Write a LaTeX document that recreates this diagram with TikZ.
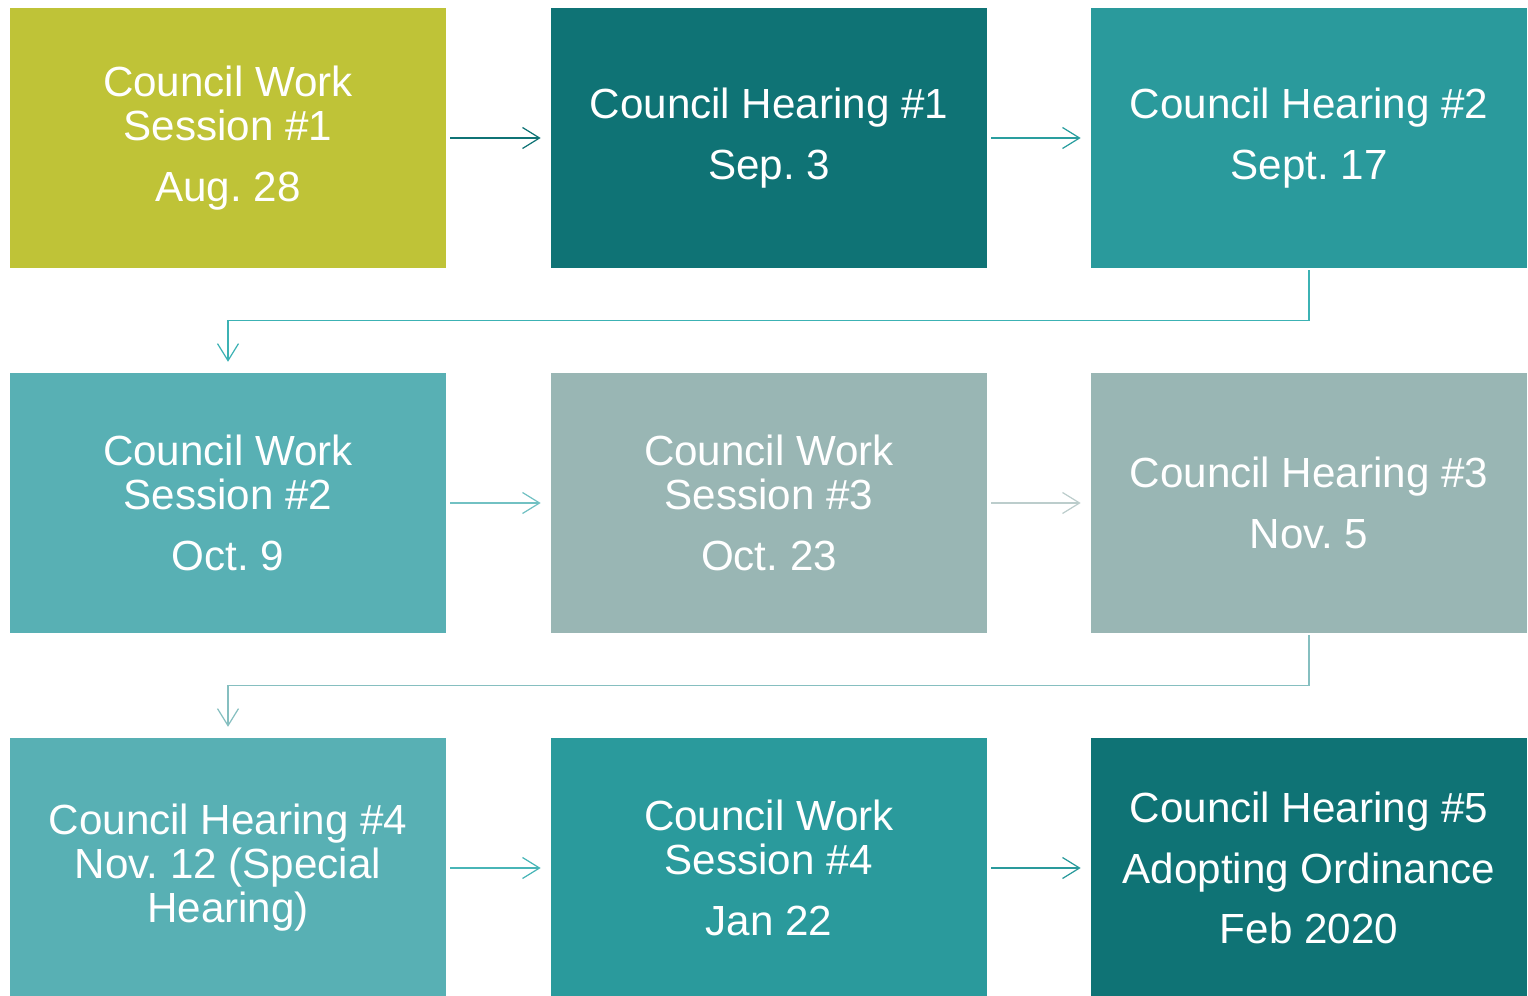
\documentclass[tikz,border=0pt]{standalone}
\usepackage{fontspec}
\setmainfont{Liberation Sans}
\usetikzlibrary{arrows.meta}

\definecolor{cwOlive}{HTML}{BFC337}
\definecolor{cwDark}{HTML}{0F7375}
\definecolor{cwTeal}{HTML}{2A9A9C}
\definecolor{cwLight}{HTML}{58B0B4}
\definecolor{cwGrey}{HTML}{99B6B4}
% connector colours
\definecolor{lnA}{HTML}{0F7375}
\definecolor{lnB}{HTML}{2A9E9F}
\definecolor{lnC}{HTML}{72C1C3}
\definecolor{lnD}{HTML}{BCCDCC}
\definecolor{lnE}{HTML}{48B5B7}
\definecolor{lnF}{HTML}{2A9A9C}
\definecolor{lnUp}{HTML}{3CB2B4}
\definecolor{lnDown}{HTML}{86BFC0}

\begin{document}
\frenchspacing
\begin{tikzpicture}[x=0.02cm, y=-0.02cm,
  box/.style={rectangle, minimum width=8.72cm, minimum height=5.2cm, inner sep=0pt,
    text=white, align=center, font=\fontsize{24}{25}\selectfont},
  link/.style={line width=0.7pt, -{Straight Barb[length=3.4mm,width=4.2mm]},
    shorten <=2.3pt, shorten >=5.7pt},
  elbow/.style={link, shorten <=1.2pt, shorten >=6.2pt}]
\useasboundingbox (0,0) rectangle (1528,996);

% row 1
\node[box, fill=cwOlive] (cw1) at (228,138) {Council Work\\Session \#1\\[9.6pt]Aug. 28};
\node[box, fill=cwDark] (ch1) at (769,138) {Council Hearing \#1\\[9.6pt]Sep. 3};
\node[box, fill=cwTeal] (ch2) at (1309,138) {Council Hearing \#2\\[9.6pt]Sept. 17};

% row 2
\node[box, fill=cwLight] (cw2) at (228,503) {Council Work\\Session \#2\\[9.6pt]Oct. 9};
\node[box, fill=cwGrey] (cw3) at (769,503) {Council Work\\Session \#3\\[9.6pt]Oct. 23};
\node[box, fill=cwGrey] (ch3) at (1309,503) {Council Hearing \#3\\[9.6pt]Nov. 5};

% row 3
\node[box, fill=cwLight] (ch4) at (228,868) {Council Hearing \#4\\Nov. 12 (Special\\Hearing)};
\node[box, fill=cwTeal] (cw4) at (769,868) {Council Work\\Session \#4\\[9.6pt]Jan 22};
\node[box, fill=cwDark] (ch5) at (1309,868) {Council Hearing \#5\\[9.6pt]Adopting Ordinance\\[9.6pt]Feb 2020};

\foreach \a/\b/\col in {cw1/ch1/lnA, ch1/ch2/lnB, cw2/cw3/lnC,
    cw3/ch3/lnD, ch4/cw4/lnE, cw4/ch5/lnF}
  \draw[link, \col] (\a.east) -- (\b.west);

\draw[elbow, lnUp] (ch2.south) -- ++(0,52) -| (cw2.north);
\draw[elbow, lnDown] (ch3.south) -- ++(0,52) -| (ch4.north);
\end{tikzpicture}
\end{document}
